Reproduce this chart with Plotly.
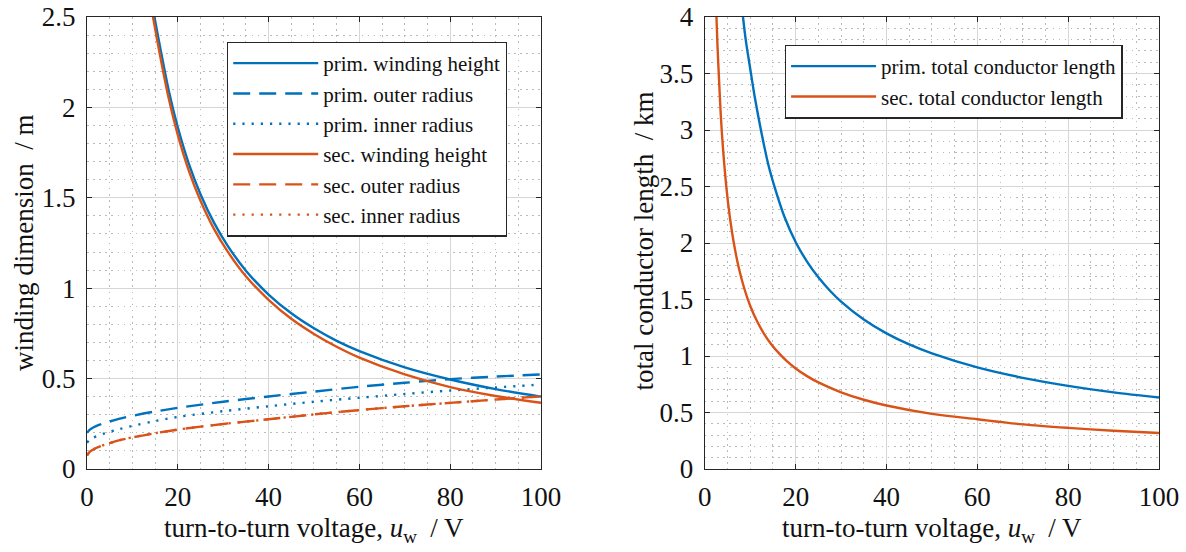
import plotly.graph_objects as go

# ---------------- data ----------------
# left panel: winding dimensions (m) vs turn-to-turn voltage (V)
u_h = [14.7, 16, 18, 20, 22.5, 25, 28, 31, 35, 40, 45, 50, 55, 60, 70, 80, 90, 100]
h_prim = [2.52, 2.347, 2.094, 1.89, 1.684, 1.52, 1.361, 1.234, 1.097, 0.965, 0.861, 0.778, 0.709,
          0.652, 0.562, 0.495, 0.442, 0.40]

u_h_sec = [14.4, 16, 18, 20, 22.5, 25, 28, 31, 35, 40, 45, 50, 55, 60, 70, 80, 90, 100]
h_sec = [2.52, 2.30, 2.05, 1.848, 1.645, 1.484, 1.327, 1.202, 1.066, 0.936, 0.831, 0.747, 0.676,
         0.616, 0.523, 0.453, 0.404, 0.366]

u_r = [0, 0.5, 1, 2, 4, 7, 10, 15, 20, 30, 40, 50, 60, 70, 80, 90, 100]
r_out_prim = [0.200, 0.215, 0.224, 0.237, 0.255, 0.277, 0.294, 0.318, 0.338, 0.372, 0.401, 0.428,
              0.455, 0.477, 0.497, 0.511, 0.523]
r_in_prim = [0.145, 0.160, 0.168, 0.180, 0.198, 0.220, 0.238, 0.265, 0.288, 0.320, 0.347, 0.372,
             0.394, 0.415, 0.434, 0.451, 0.467]
r_out_sec = [0.075, 0.092, 0.102, 0.116, 0.135, 0.158, 0.175, 0.198, 0.218, 0.249, 0.275, 0.302,
             0.326, 0.347, 0.366, 0.384, 0.402]
r_in_sec = [0.075, 0.092, 0.102, 0.116, 0.135, 0.158, 0.175, 0.198, 0.218, 0.249, 0.275, 0.302,
            0.326, 0.347, 0.366, 0.384, 0.402]

# right panel: total conductor length (km)
u_l_prim = [8.4, 9, 10, 11, 12.5, 14, 15.4, 17.5, 20.1, 22.5, 25, 27.5, 30, 35, 40, 45, 50, 60,
            70, 80, 90, 100]
l_prim = [4.0, 3.80, 3.54, 3.29, 2.97, 2.69, 2.49, 2.235, 2.0, 1.836, 1.696, 1.58, 1.482, 1.323,
          1.20, 1.102, 1.023, 0.899, 0.807, 0.736, 0.678, 0.632]

u_l_sec = [2.56, 2.8, 3.1, 3.5, 4, 4.8, 5.5, 6.4, 7.5, 8.7, 10, 11.5, 13, 14.7, 16.5, 18, 20,
           22.5, 25, 30, 35, 40, 50, 60, 70, 80, 90, 100]
l_sec = [4.0, 3.73, 3.47, 3.139, 2.835, 2.47, 2.231, 1.995, 1.776, 1.595, 1.443, 1.307, 1.199,
         1.10, 1.016, 0.957, 0.89, 0.822, 0.766, 0.679, 0.613, 0.562, 0.488, 0.44, 0.395, 0.364,
         0.339, 0.318]

x_ticks = [0, 20, 40, 60, 80, 100]
y1_ticks = [0, 0.5, 1, 1.5, 2, 2.5]
y2_ticks = [0, 0.5, 1, 1.5, 2, 2.5, 3, 3.5, 4]

# ---------------- styling ----------------
BLUE = "#0072BD"
ORANGE = "#D95319"
AX = "#262626"
FONT = "Liberation Serif, Times New Roman, serif"
W, H = 1186, 552

# plot-area pixel boxes
L1, R1 = 86.7, 541.0
L2, R2 = 705.0, 1159.5
TOP, BOT = 17.3, 469.3
ML, MR, MT, MB = L1, W - R2, TOP, H - BOT
PW, PH = W - ML - MR, H - MT - MB


def fx(p):
    return (p - ML) / PW


def fy(p):
    return (BOT - p) / PH


fig = go.Figure()


def add(x, y, name, color, dash, xa, ya, legend, width=2.4):
    fig.add_trace(go.Scatter(
        x=x, y=y, name=name, mode="lines",
        line=dict(color=color, width=width, dash=dash, shape="spline", smoothing=0.9),
        xaxis=xa, yaxis=ya, legend=legend, hoverinfo="skip"))


DASH = "17px,9px"
DOT = "2.2px,7px"
add(u_h, h_prim, "prim. winding height", BLUE, "solid", "x", "y", "legend")
add(u_r, r_out_prim, "prim. outer radius", BLUE, DASH, "x", "y", "legend")
add(u_r, r_in_prim, "prim. inner radius", BLUE, DOT, "x", "y", "legend")
add(u_h_sec, h_sec, "sec. winding height", ORANGE, "solid", "x", "y", "legend")
add(u_r, r_out_sec, "sec. outer radius", ORANGE, DASH, "x", "y", "legend")
add(u_r, r_in_sec, "sec. inner radius", ORANGE, DOT, "x", "y", "legend")

add(u_l_prim, l_prim, "prim. total conductor length", BLUE, "solid", "x2", "y2", "legend2")
add(u_l_sec, l_sec, "sec. total conductor length", ORANGE, "solid", "x2", "y2", "legend2")

TICKFONT = dict(family=FONT, size=27, color="#111")
MINOR_GRID = dict(showgrid=True, gridcolor="#bababa", griddash="1.6px,4.5px", gridwidth=1, ticks="")


def xaxis(l, r, anchor):
    return dict(
        domain=[fx(l), fx(r)], anchor=anchor, automargin=False,
        range=[0, 100], tickvals=x_ticks, ticks="inside", ticklen=5, tickwidth=1.2,
        tickcolor=AX, showline=True, linecolor=AX, linewidth=1.3, mirror="ticks",
        showgrid=True, gridcolor="#d6d6d6", gridwidth=1.2, zeroline=False,
        minor=dict(dtick=5, **MINOR_GRID),
        tickfont=TICKFONT, ticklabelstandoff=3,
    )


def yaxis(rng, tv, anchor):
    return dict(
        domain=[0, 1], anchor=anchor, automargin=False,
        range=rng, tickvals=tv, ticks="inside", ticklen=5, tickwidth=1.2,
        tickcolor=AX, showline=True, linecolor=AX, linewidth=1.3, mirror="ticks",
        showgrid=True, gridcolor="#d6d6d6", gridwidth=1.2, zeroline=False,
        minor=dict(dtick=0.1, **MINOR_GRID),
        tickfont=TICKFONT, ticklabelstandoff=5,
    )


legend_common = dict(
    bgcolor="white", bordercolor=AX, borderwidth=1.3,
    font=dict(family=FONT, size=21, color="#111"),
    xanchor="left", yanchor="top", tracegroupgap=0, itemwidth=85,
)

fig.update_layout(
    width=W, height=H,
    margin=dict(l=ML, r=MR, t=MT, b=MB, pad=0, autoexpand=False),
    paper_bgcolor="white", plot_bgcolor="white",
    font=dict(family=FONT, color="#111"),
    xaxis=xaxis(L1, R1, "y"),
    yaxis=yaxis([0, 2.5], y1_ticks, "x"),
    xaxis2=xaxis(L2, R2, "y2"),
    yaxis2=yaxis([0, 4], y2_ticks, "x2"),
    legend=dict(x=fx(226.7), y=fy(42), **legend_common),
    legend2=dict(x=fx(785), y=fy(45), **legend_common),
    showlegend=True,
)

title_font = dict(family=FONT, size=27, color="#111")
xt = "turn-to-turn voltage, <i>u</i><sub>w</sub>\u00a0\u00a0/ V"
for cx in ((L1 + R1) / 2, (L2 + R2) / 2):
    fig.add_annotation(text=xt, x=fx(cx), y=fy(530), xref="paper", yref="paper",
                       showarrow=False, font=title_font, xanchor="center", yanchor="middle")
fig.add_annotation(text="winding dimension\u00a0\u00a0/ m", x=fx(23), y=fy(243),
                   xref="paper", yref="paper", showarrow=False, font=title_font,
                   textangle=-90, xanchor="center", yanchor="middle")
fig.add_annotation(text="total conductor length\u00a0\u00a0/ km", x=fx(644), y=fy(241),
                   xref="paper", yref="paper", showarrow=False, font=title_font,
                   textangle=-90, xanchor="center", yanchor="middle")

fig.write_html("out.html")
